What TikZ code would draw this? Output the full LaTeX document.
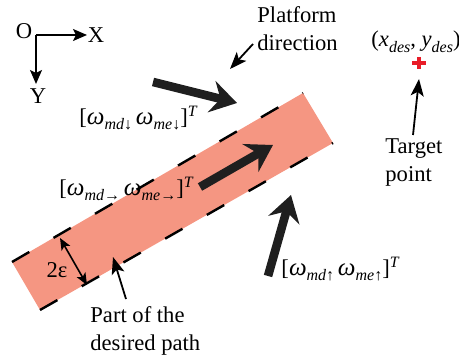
\documentclass[tikz,border=0pt]{standalone}
\usepackage{fontspec}
\setmainfont{Liberation Serif}
\usetikzlibrary{arrows.meta,positioning}
\definecolor{pathsalmon}{RGB}{245,150,130}
\definecolor{targetred}{RGB}{232,28,40}
\newcommand{\lowsub}[1]{\raisebox{-0.55ex}{\fontsize{8}{9}\selectfont\textit{#1}}}
\newcommand{\wsub}[1]{{\fontsize{12.5}{14}\selectfont\textit{ω}}\lowsub{#1}}
\tikzset{
  lbl/.style={font=\fontsize{11.3}{14}\selectfont, inner sep=0pt, align=left},
  bandfill/.style={fill=pathsalmon},
  bandedge/.style={line width=1.2pt, dash pattern=on 10pt off 14pt, black},
  bigarrow/.style={-{Stealth[length=13pt, width=16pt, inset=4.5pt]}, line width=4.3pt, black!88},
  thinarrow/.style={-{Stealth[length=8.5pt, width=6.5pt, inset=2pt]}, line width=0.9pt},
  axisarrow/.style={-{Stealth[length=7pt, width=6pt, inset=1.5pt]}, line width=0.8pt},
  dblarrow/.style={{Stealth[length=6pt, width=5pt, inset=1.5pt]}-{Stealth[length=6pt, width=5pt, inset=1.5pt]}, line width=0.8pt},
}
\begin{document}
\begin{tikzpicture}[x=0.5pt, y=-0.5pt]
  \useasboundingbox (0,0) rectangle (459,362);

  % the band of the path
  \coordinate (bA) at (12,262);
  \coordinate (bB) at (40,310);
  \coordinate (bC) at (333,143);
  \coordinate (bD) at (303,93);
  \fill[bandfill] (bA) -- (bB) -- (bC) -- (bD) -- cycle;
  \draw[bandedge] (bA) -- (bD);
  \draw[bandedge] (bB) -- (bC);

  % frame
  \coordinate (orig) at (36,35);
  \coordinate (xend) at (87,35);
  \coordinate (yend) at (36,84);
  \draw[axisarrow] (orig) -- (xend);
  \draw[axisarrow] (orig) -- (yend);
  \node[lbl] (oL) at (24,31) {O};
  \node[lbl] (xL) at (96,35) {X};
  \node[lbl] (yL) at (38,96) {Y};

  % platform direction
  \node[lbl, anchor=west] (platL) at (257,29) {Platform\\direction};
  \coordinate (platS) at (253,44);
  \coordinate (platE) at (230,69);
  \draw[thinarrow] (platS) -- (platE);

  % target
  \node[lbl] (desL) at (416,42) {(\textit{x}\lowsub{des}, \textit{y}\lowsub{des})};
  \coordinate (target) at (419,63);
  \draw[targetred, line width=2pt] ([xshift=-7*0.5pt]target) -- ([xshift=7*0.5pt]target)
    ([yshift=6*0.5pt]target) -- ([yshift=-6*0.5pt]target);
  \node[lbl, anchor=west] (tgtL) at (385,163) {Target\\point};
  \coordinate (tgtS) at (413,135);
  \coordinate (tgtE) at (419,79);
  \draw[thinarrow] (tgtS) -- (tgtE);

  % velocity arrows
  \coordinate (downS) at (153,82);
  \coordinate (downE) at (237,103);
  \draw[bigarrow] (downS) -- (downE);
  \node[lbl] (downL) at (139,118) {[\wsub{md↓}\,\wsub{me↓}]\textsuperscript{\textit{T}}};

  \coordinate (rightS) at (200,187);
  \coordinate (rightE) at (273,145);
  \draw[bigarrow] (rightS) -- (rightE);
  \node[lbl] (rightL) at (127,189) {[\wsub{md→}\,\wsub{me→}]\textsuperscript{\textit{T}}};

  \coordinate (upS) at (268,276);
  \coordinate (upE) at (291,195);
  \draw[bigarrow] (upS) -- (upE);
  \node[lbl] (upL) at (341,269) {[\wsub{md↑}\,\wsub{me↑}]\textsuperscript{\textit{T}}};

  % width of the band
  \coordinate (wTop) at (60,238);
  \coordinate (wBot) at (87,285);
  \draw[dblarrow] (wTop) -- (wBot);
  \node[lbl] (epsL) at (57,270) {2ε};

  % part of the path
  \node[lbl, anchor=west] (partL) at (90,331) {Part of the\\desired path};
  \coordinate (partS) at (126,299);
  \coordinate (partE) at (113,257);
  \draw[thinarrow] (partS) -- (partE);
\end{tikzpicture}
\end{document}
